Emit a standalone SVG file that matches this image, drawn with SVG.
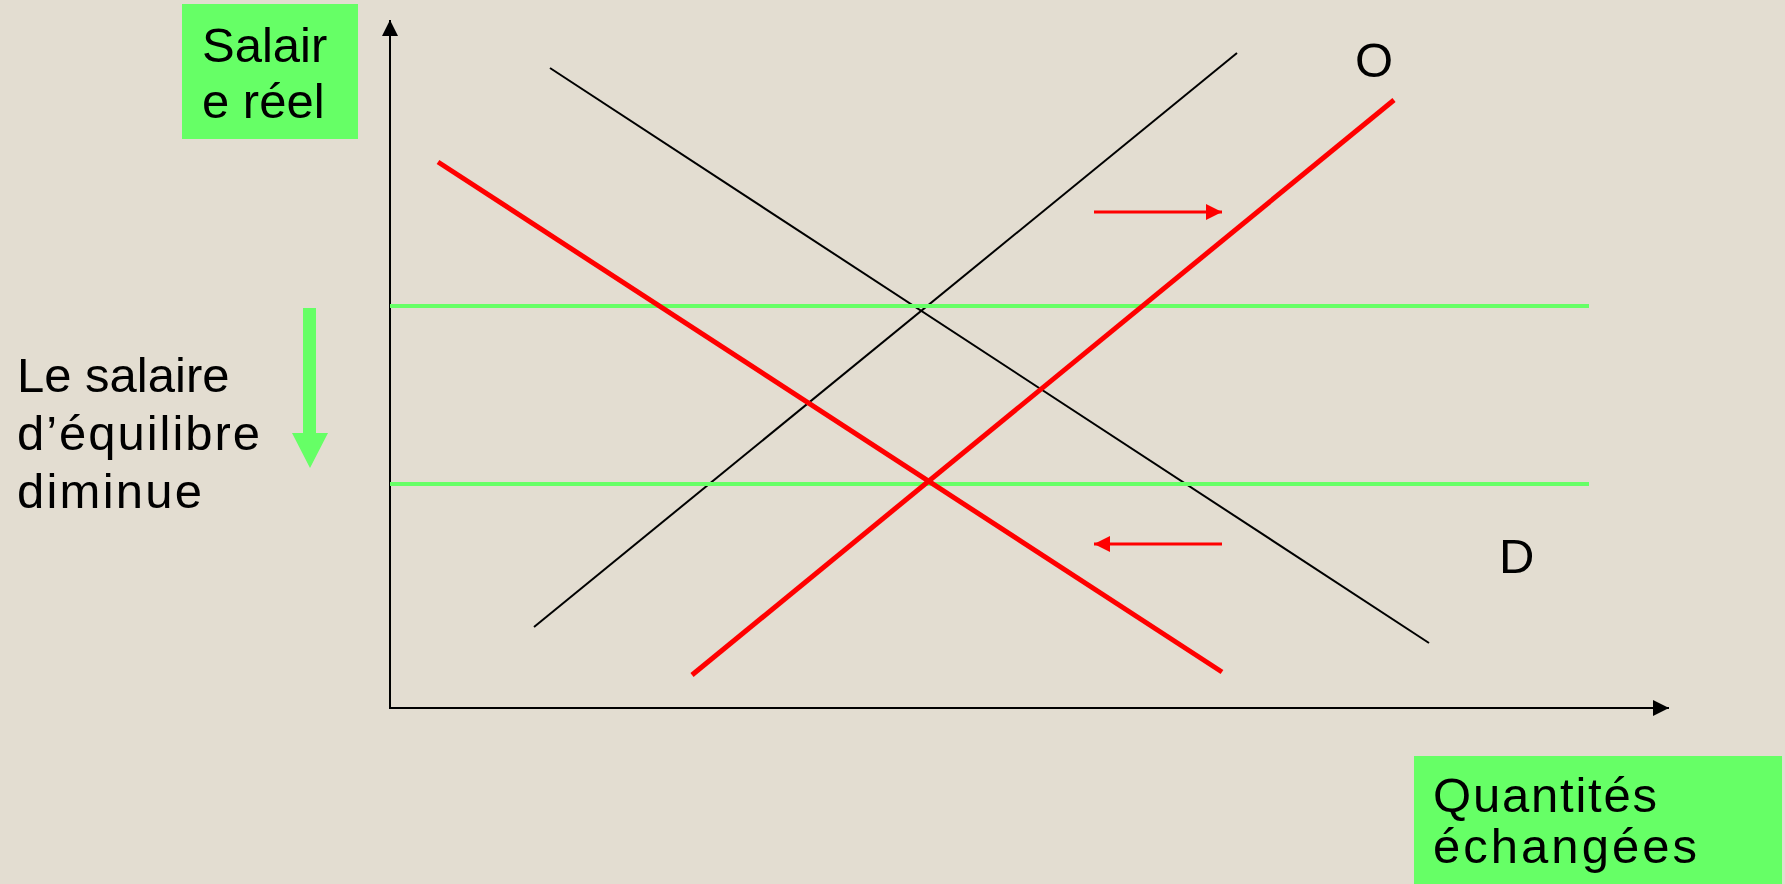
<svg xmlns="http://www.w3.org/2000/svg" width="1785" height="884" viewBox="0 0 1785 884">
<defs>
<style>
.t{font-family:"Liberation Sans",Arial,sans-serif;font-size:49px;fill:#000}
.blk{stroke:#000;stroke-width:2;fill:none}
.red{stroke:#FF0000;stroke-width:5;fill:none;stroke-linecap:butt}
.grn{stroke:#66FF66;stroke-width:4;fill:none}
.box{fill:#66FF66}
</style>
<marker id="ah" viewBox="0 0 16 16" refX="16" refY="8" markerWidth="16" markerHeight="16" markerUnits="userSpaceOnUse" orient="auto"><path d="M0,0 L16,8 L0,16 Z" fill="#000"/></marker>
<marker id="rh" viewBox="0 0 16 16" refX="16" refY="8" markerWidth="16" markerHeight="16" markerUnits="userSpaceOnUse" orient="auto"><path d="M0,0 L16,8 L0,16 Z" fill="#FF0000"/></marker>
</defs>
<rect width="1785" height="884" fill="#E3DDD1"/>
<g id="axes">
<line class="blk" x1="390" y1="709" x2="390" y2="20" marker-end="url(#ah)"/>
<line class="blk" x1="389" y1="708" x2="1669" y2="708" marker-end="url(#ah)"/>
</g>
<g id="connectors">
<line class="blk" x1="550" y1="68" x2="1429" y2="643"/>
<line class="blk" x1="534" y1="627" x2="1237" y2="53"/>
<line class="grn" x1="390" y1="306" x2="1589" y2="306"/>
<line class="grn" x1="390" y1="484" x2="1589" y2="484"/>
<line class="red" x1="438" y1="162" x2="1222" y2="672"/>
<line class="red" x1="692" y1="675" x2="1394" y2="100"/>
<line stroke="#FF0000" stroke-width="3" x1="1094" y1="212" x2="1222" y2="212" marker-end="url(#rh)"/>
<line stroke="#FF0000" stroke-width="3" x1="1222" y1="544" x2="1094" y2="544" marker-end="url(#rh)"/>
<path d="M303,308 H316 V433 H328 L310,468 L292,433 H303 Z" fill="#66FF66"/>
</g>
<g id="ylabel">
<rect class="box" x="182" y="4" width="176" height="135"/>
<text class="t" x="202" y="62">Salair</text>
<text class="t" x="202" y="118">e réel</text>
</g>
<g id="xlabel">
<rect class="box" x="1414" y="756" width="368" height="128"/>
<text class="t" x="1433" y="812" textLength="224">Quantités</text>
<text class="t" x="1433" y="863" textLength="264">échangées</text>
</g>
<g id="note">
<text class="t" x="17" y="392">Le salaire</text>
<text class="t" x="17" y="450" textLength="243">d’équilibre</text>
<text class="t" x="17" y="508" textLength="185">diminue</text>
</g>
<g id="labelO"><text class="t" x="1355" y="77">O</text></g>
<g id="labelD"><text class="t" x="1499" y="573">D</text></g>
</svg>
